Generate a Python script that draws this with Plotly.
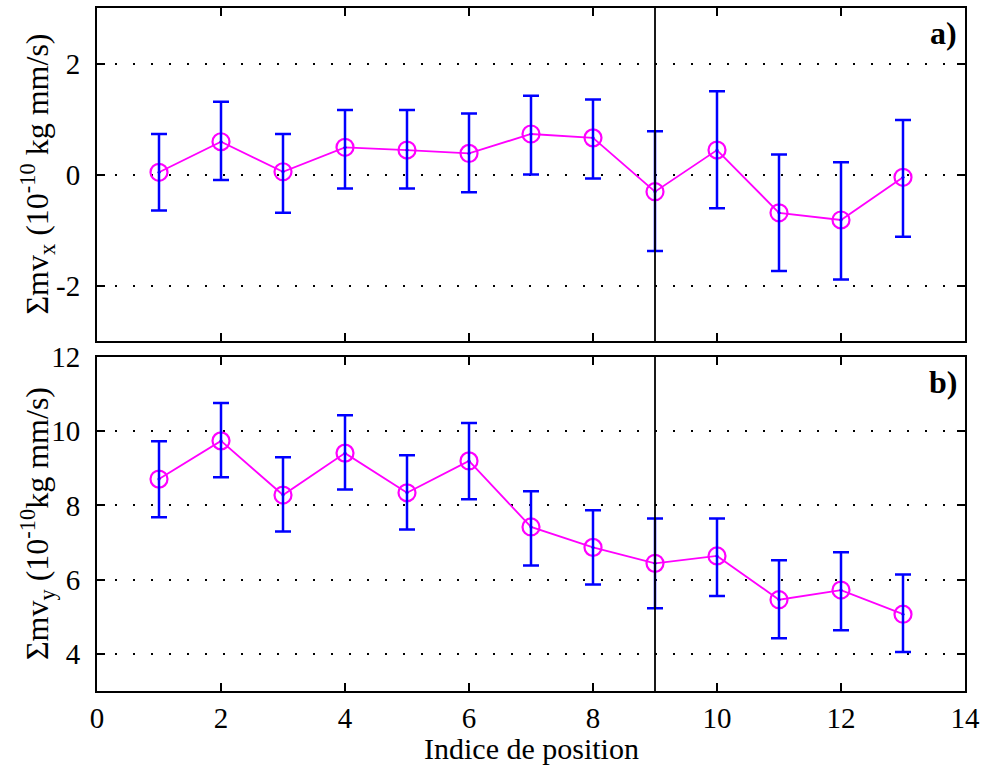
import plotly.graph_objects as go
from plotly.subplots import make_subplots

positions = [1, 2, 3, 4, 5, 6, 7, 8, 9, 10, 11, 12, 13]

# Panel a) sum of m*vx
mvx = [0.04, 0.59, 0.05, 0.49, 0.44, 0.38, 0.73, 0.66, -0.31, 0.44, -0.69, -0.82, -0.05]
mvx_err_plus = [0.69, 0.72, 0.68, 0.67, 0.72, 0.72, 0.69, 0.69, 1.09, 1.06, 1.05, 1.04, 1.03]
mvx_err_minus = [0.69, 0.69, 0.74, 0.74, 0.69, 0.70, 0.73, 0.73, 1.07, 1.05, 1.05, 1.07, 1.07]

# Panel b) sum of m*vy
mvy = [8.71, 9.74, 8.28, 9.41, 8.34, 9.20, 7.42, 6.87, 6.44, 6.64, 5.46, 5.72, 5.07]
mvy_err_plus = [1.02, 1.02, 1.02, 1.02, 1.01, 1.02, 0.96, 1.00, 1.21, 1.01, 1.06, 1.02, 1.07]
mvy_err_minus = [1.03, 0.98, 0.98, 0.98, 0.99, 1.03, 1.04, 1.00, 1.21, 1.08, 1.04, 1.08, 1.02]

split_position = 9
x_ticks = [0, 2, 4, 6, 8, 10, 12, 14]
ya_ticks = [-2, 0, 2]
ya_tick_labels = ["-2", "0", "2"]
yb_ticks = [4, 6, 8, 10, 12]

FONT = "Liberation Serif"

fig = make_subplots(rows=2, cols=1, shared_xaxes=False, vertical_spacing=0.024)

for row, vals, ep, em in [(1, mvx, mvx_err_plus, mvx_err_minus),
                          (2, mvy, mvy_err_plus, mvy_err_minus)]:
    fig.add_trace(go.Scatter(
        x=positions, y=vals, mode="lines+markers",
        line=dict(color="#ff00ff", width=1.8),
        marker=dict(symbol="circle-open", size=17, color="#ff00ff", line=dict(width=2.2)),
        showlegend=False, hoverinfo="skip"), row=row, col=1)
    fig.add_trace(go.Scatter(
        x=positions, y=vals, mode="markers",
        marker=dict(size=3, color="#0000ff"),
        error_y=dict(type="data", symmetric=False, array=ep, arrayminus=em,
                     color="#0000ff", thickness=2.5, width=8),
        showlegend=False, hoverinfo="skip"), row=row, col=1)

axis_common = dict(
    showline=True, linecolor="black", linewidth=2, mirror="ticks",
    ticks="inside", ticklen=8, tickwidth=1.5, tickcolor="black",
    zeroline=False, automargin=False,
    tickfont=dict(family=FONT, size=29, color="black"),
)

fig.update_xaxes(range=[0, 14], tickvals=x_ticks, showgrid=False, **axis_common)
fig.update_xaxes(showticklabels=False, row=1, col=1)

grid_style = dict(showgrid=True, gridcolor="black", gridwidth=1.6, griddash="2px,16px")
fig.update_yaxes(range=[-3, 3], tickvals=ya_ticks, ticktext=ya_tick_labels, row=1, col=1,
                 **grid_style, **axis_common, ticklabelstandoff=9)
fig.update_yaxes(range=[3, 12], tickvals=yb_ticks, row=2, col=1, **grid_style, **axis_common,
                 ticklabelstandoff=9)

# Axis titles as annotations for precise placement
fig.add_annotation(text="Indice de position", xref="x2 domain", yref="y2 domain",
                   x=0.5, y=0, yshift=-57, xanchor="center", yanchor="middle",
                   showarrow=False, font=dict(family=FONT, size=30, color="black"))
fig.add_annotation(text="Σmv<sub>x</sub> (10<sup>-10</sup> kg mm/s)", xref="x domain", yref="y domain",
                   x=0, y=0.5, xshift=-60, textangle=-90, xanchor="center", yanchor="middle",
                   showarrow=False, font=dict(family=FONT, size=32, color="black"))
fig.add_annotation(text="Σmv<sub>y</sub> (10<sup>-10</sup>kg mm/s)", xref="x2 domain", yref="y2 domain",
                   x=0, y=0.5, xshift=-60, textangle=-90, xanchor="center", yanchor="middle",
                   showarrow=False, font=dict(family=FONT, size=32, color="black"))

fig.add_shape(type="line", xref="x", yref="y domain", x0=split_position, x1=split_position,
              y0=0, y1=1, line=dict(color="black", width=1.8))
fig.add_shape(type="line", xref="x2", yref="y2 domain", x0=split_position, x1=split_position,
              y0=0, y1=1, line=dict(color="black", width=1.8))

fig.add_annotation(text="<b>a)</b>", xref="x domain", yref="y domain", x=0.993, y=0.985,
                   xanchor="right", yanchor="top", showarrow=False,
                   font=dict(family=FONT, size=32, color="black"))
fig.add_annotation(text="<b>b)</b>", xref="x2 domain", yref="y2 domain", x=0.993, y=0.985,
                   xanchor="right", yanchor="top", showarrow=False,
                   font=dict(family=FONT, size=32, color="black"))

fig.update_layout(
    width=983, height=771,
    margin=dict(l=97, r=18, t=8, b=80),
    paper_bgcolor="white", plot_bgcolor="white",
    font=dict(family=FONT, color="black"),
)
fig.update_layout(yaxis=dict(domain=[350 / 683, 1.0]), yaxis2=dict(domain=[0.0, 334 / 683]))

# remove the default page margin so the figure fills the window exactly
fig.write_html("out.html",
               config={"displayModeBar": False},
               post_script="document.body.style.margin='0';document.body.style.overflow='hidden';")
